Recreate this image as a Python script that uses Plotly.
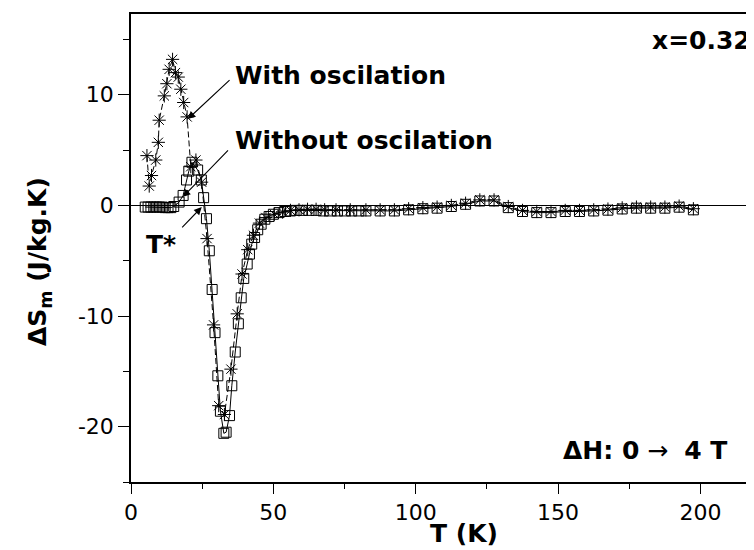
import plotly.graph_objects as go

# ---- data ----
T_with = [5.6, 6.4, 7.2, 8.7, 9.6, 9.9, 11.7, 12.6, 13.4, 14.6, 15.6, 16.6, 17.5, 18.5, 19.7,
          21.0, 22.8, 24.8, 26.7, 29.0, 30.8, 32.8, 35.1, 37.3, 39.0, 41.0, 43.0, 45.1, 47.4,
          50.3, 53.2, 56.0, 59.0, 62.0, 65.0, 68.0, 72.0, 77.0,
          82.5, 87.5, 92.5, 97.5, 102.5, 107.5, 112.5, 117.5, 122.5, 127.5, 132.5, 137.5,
          142.5, 147.5, 152.5, 157.5, 162.5, 167.5, 172.5, 177.5, 182.5, 187.5, 192.5, 197.5]
S_with = [4.5, 1.75, 2.7, 4.1, 5.7, 7.7, 9.9, 11.0, 12.3, 13.2, 12.0, 11.6, 10.5, 9.3, 8.0,
          3.5, 4.1, 2.1, -3.0, -10.8, -18.1, -18.9, -14.8, -9.8, -6.2, -4.0, -2.7, -1.6, -1.1,
          -0.8, -0.6, -0.45, -0.4, -0.35, -0.35, -0.4, -0.4, -0.4,
          -0.4, -0.4, -0.4, -0.3, -0.2, -0.15, 0.0, 0.2, 0.5, 0.5, -0.1, -0.45,
          -0.55, -0.55, -0.45, -0.45, -0.4, -0.33, -0.22, -0.15, -0.15, -0.15, -0.06, -0.3]

T_without = [5, 6, 7, 8, 9, 10, 11, 12, 13, 14, 15, 16.9, 18.3, 19.5, 20.3, 21.4, 23.4, 24.7,
             25.5, 26.5, 27.5, 28.5, 29.5, 30.5, 31.4, 32.6, 33.4, 34.6, 35.4, 36.6, 37.7,
             38.7, 39.6, 40.8, 41.6, 42.4, 43.4, 44.5, 45.7, 47.0, 48.5, 50.0, 52.0, 54.0,
             56.0, 58.0, 60.0, 62.5, 65.0, 67.5, 70.0, 72.5, 75.0, 77.5, 80.0,
             82.5, 87.5, 92.5, 97.5, 102.5, 107.5, 112.5, 117.5, 122.5, 127.5, 132.5, 137.5,
             142.5, 147.5, 152.5, 157.5, 162.5, 167.5, 172.5, 177.5, 182.5, 187.5, 192.5, 197.5]
S_without = [-0.15, -0.15, -0.15, -0.15, -0.15, -0.15, -0.15, -0.2, -0.2, -0.2, -0.1, 0.3, 0.9,
             2.3, 3.1, 3.9, 3.2, 2.3, 0.7, -1.2, -4.1, -7.6, -11.5, -15.4, -18.6, -20.6, -20.5,
             -19.0, -16.3, -13.25, -10.7, -8.35, -6.6, -5.3, -4.4, -3.5, -2.9, -2.2, -1.7,
             -1.25, -1.0, -0.8, -0.65, -0.55, -0.5, -0.45, -0.45, -0.45, -0.45, -0.5, -0.5,
             -0.5, -0.5, -0.5, -0.5,
             -0.5, -0.5, -0.5, -0.4, -0.3, -0.25, -0.1, 0.1, 0.4, 0.4, -0.2, -0.55,
             -0.65, -0.65, -0.55, -0.55, -0.5, -0.43, -0.32, -0.25, -0.25, -0.25, -0.16, -0.4]

x_ticks = [0, 50, 100, 150, 200]
x_ticklabels = ["0", "50", "100", "150", "200"]
y_ticks = [-20, -10, 0, 10]
y_ticklabels = ["-20", "-10", "0", "10"]

FONT = "DejaVu Sans"

fig = go.Figure()
fig.add_trace(go.Scatter(
    x=T_without, y=S_without, mode="lines+markers",
    line=dict(color="black", width=1),
    marker=dict(symbol="square-open", size=10, color="black", line=dict(width=1)),
    showlegend=False))
fig.add_trace(go.Scatter(
    x=T_with, y=S_with, mode="lines+markers",
    line=dict(color="black", width=1, dash="6px,3px"),
    marker=dict(symbol="asterisk-open", size=11, color="black", line=dict(width=1, color="black")),
    showlegend=False))

L, T_, R, B = 123.3, 6.3, 0, 76
W, H = 754, 550
pw = W - L - R
ph = H - T_ - B

def px_to_paper_x(px):
    return (px - L) / pw

def py_to_paper_y(py):
    return (H - B - py) / ph

fig.update_layout(
    width=W, height=H,
    margin=dict(l=L, r=R, t=T_, b=B, pad=0),
    paper_bgcolor="white", plot_bgcolor="white",
    font=dict(family=FONT, size=22, color="black"),
    xaxis=dict(range=[0, 221.6], tickvals=x_ticks, ticktext=x_ticklabels,
               ticks="outside", ticklen=10, tickwidth=1.3,
               tickcolor="black", showline=True, linecolor="black", linewidth=1.5,
               mirror=True, showgrid=False, zeroline=False,
               minor=dict(dtick=25, tick0=0, ticks="outside", ticklen=5, tickwidth=1.3,
                          tickcolor="black", showgrid=False),
               tickfont=dict(size=22, family=FONT)),
    yaxis=dict(range=[-25, 17.3], tickvals=y_ticks, ticktext=y_ticklabels,
               ticks="outside", ticklen=11, tickwidth=1.3,
               tickcolor="black", showline=True, linecolor="black", linewidth=1.5,
               showgrid=False, zeroline=True, zerolinecolor="black", zerolinewidth=1.3,
               minor=dict(dtick=5, tick0=0, ticks="outside", ticklen=6, tickwidth=1.3,
                          tickcolor="black", showgrid=False),
               tickfont=dict(size=22, family=FONT)),
)

ann = []
# axis titles
ann.append(dict(text="<b>T (K)</b>", xref="paper", yref="paper",
                x=px_to_paper_x(456), y=py_to_paper_y(525), xanchor="center", yanchor="middle",
                showarrow=False, font=dict(size=25, family=FONT), borderpad=0))
ann.append(dict(text="<b>ΔS<sub>m</sub> (J/kg.K)</b>", xref="paper", yref="paper",
                x=px_to_paper_x(31.6), y=py_to_paper_y(254), xanchor="center", yanchor="middle",
                textangle=-90, showarrow=False, font=dict(size=25, family=FONT)))
# labels
ann.append(dict(text="<b>With oscilation</b>", x=35.7, y=11.75, xref="x", yref="y",
                xanchor="left", yanchor="middle", showarrow=False, font=dict(size=25)))
ann.append(dict(text="<b>Without oscilation</b>", x=35.7, y=5.88, xref="x", yref="y",
                xanchor="left", yanchor="middle", showarrow=False, font=dict(size=25)))
ann.append(dict(text="<b>T*</b>", x=4.46, y=-3.5, xref="x", yref="y",
                xanchor="left", yanchor="middle", showarrow=False, font=dict(size=25)))
ann.append(dict(text="<b>x=0.32</b>", x=182.2, y=14.9, xref="x", yref="y",
                xanchor="left", yanchor="middle", showarrow=False, font=dict(size=25)))
ann.append(dict(text="<b>ΔH: 0</b> →  <b>4 T</b>", x=151.1, y=-22.15, xref="x", yref="y",
                xanchor="left", yanchor="middle", showarrow=False, font=dict(size=25)))
# arrows
for (hx, hy, tx, ty) in [(19.92, 7.80, 35.14, 11.45),
                         (18.17, 0.75, 34.58, 5.12),
                         (24.84, -0.15, 17.46, -2.12)]:
    ann.append(dict(text="", x=hx, y=hy, ax=tx, ay=ty, xref="x", yref="y",
                    axref="x", ayref="y", showarrow=True, arrowhead=2, arrowsize=1.4,
                    arrowwidth=1.1, arrowcolor="black", standoff=0))
fig.update_layout(annotations=ann)

fig.write_html("out.html")
